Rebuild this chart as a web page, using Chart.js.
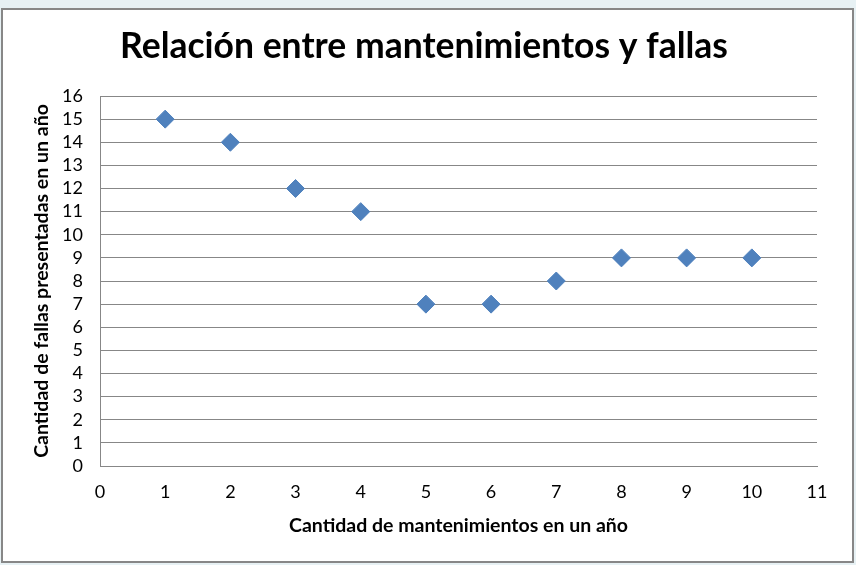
<!DOCTYPE html>
<html>
<head>
<meta charset="utf-8">
<script src="https://cdn.jsdelivr.net/npm/chart.js@4"></script>
<style>
  body { margin: 0; background: #e7f1f4; }
  #frame {
    position: absolute; left: 1px; top: 8px; width: 849px; height: 551px;
    border: 2px solid #878787; background: #fff;
  }
  #wrap { position: absolute; left: 0; top: 0; width: 856px; height: 565px; }
</style>
</head>
<body>
<div id="frame"></div>
<div id="wrap"><canvas id="scatter-chart" width="856" height="565"></canvas></div>
<script>
// mantenimientos por año vs fallas presentadas
const mantenimientos = [1, 2, 3, 4, 5, 6, 7, 8, 9, 10];
const fallas = [15, 14, 12, 11, 7, 7, 8, 9, 9, 9];
const chartTitle = 'Relación entre mantenimientos y fallas';

// the title sits a bit right of the canvas centre, so draw it by hand
const titlePlugin = {
    id: 'chartTitle',
    afterDraw(chart) {
        const c = chart.ctx;
        c.save();
        c.font = 'bold 35.5px Lato';
        c.fillStyle = '#000';
        c.textAlign = 'center';
        c.textBaseline = 'middle';
        c.fillText(chartTitle, 424, 47);
        c.restore();
    }
};

const data = {
    datasets: [
        {
            label: 'Fallas',
            data: mantenimientos.map((m, i) => ({x: m, y: fallas[i]})),
            backgroundColor: '#4f81bd',
            borderColor: '#4f81bd',
            pointStyle: 'rectRot',
            pointRadius: 9,
            pointHoverRadius: 9,
            showLine: false,
        }
    ]
};

const config = {
    type: 'scatter',
    data: data,
    plugins: [titlePlugin],
    options: {
        responsive: false,
        animation: false,
        events: [],
        layout: {
            padding: {left: 0, right: 39, top: 96, bottom: 0}
        },
        plugins: {
            legend: {display: false},
            tooltip: {enabled: false},
            title: {display: false}
        },
        scales: {
            x: {
                type: 'linear',
                min: 0,
                max: 11,
                ticks: {stepSize: 1, autoSkip: false, color: '#000', padding: 15, font: {family: 'Lato', size: 18}},
                grid: {display: false, drawTicks: false},
                border: {display: true, color: '#878787', width: 1},
                title: {
                    display: true,
                    text: 'Cantidad de mantenimientos en un año',
                    color: '#000',
                    font: {family: 'Lato', size: 19.5, weight: 'bold'},
                    padding: {top: 0, bottom: 28}
                },
                afterFit: scale => { scale.height = 99; }
            },
            y: {
                min: 0,
                max: 16,
                ticks: {stepSize: 1, autoSkip: false, color: '#000', padding: 17, font: {family: 'Lato', size: 18}},
                grid: {color: '#878787', drawTicks: false},
                border: {display: true, color: '#878787', width: 1},
                title: {
                    display: true,
                    text: 'Cantidad de fallas presentadas en un año',
                    color: '#000',
                    font: {family: 'Lato', size: 19.5, weight: 'bold'},
                    padding: {top: 30, bottom: 0}
                },
                afterFit: scale => { scale.width = 100; }
            }
        }
    }
};

const ctx = document.getElementById('scatter-chart').getContext('2d');
window.myScatter = new Chart(ctx, config);
</script>
</body>
</html>
